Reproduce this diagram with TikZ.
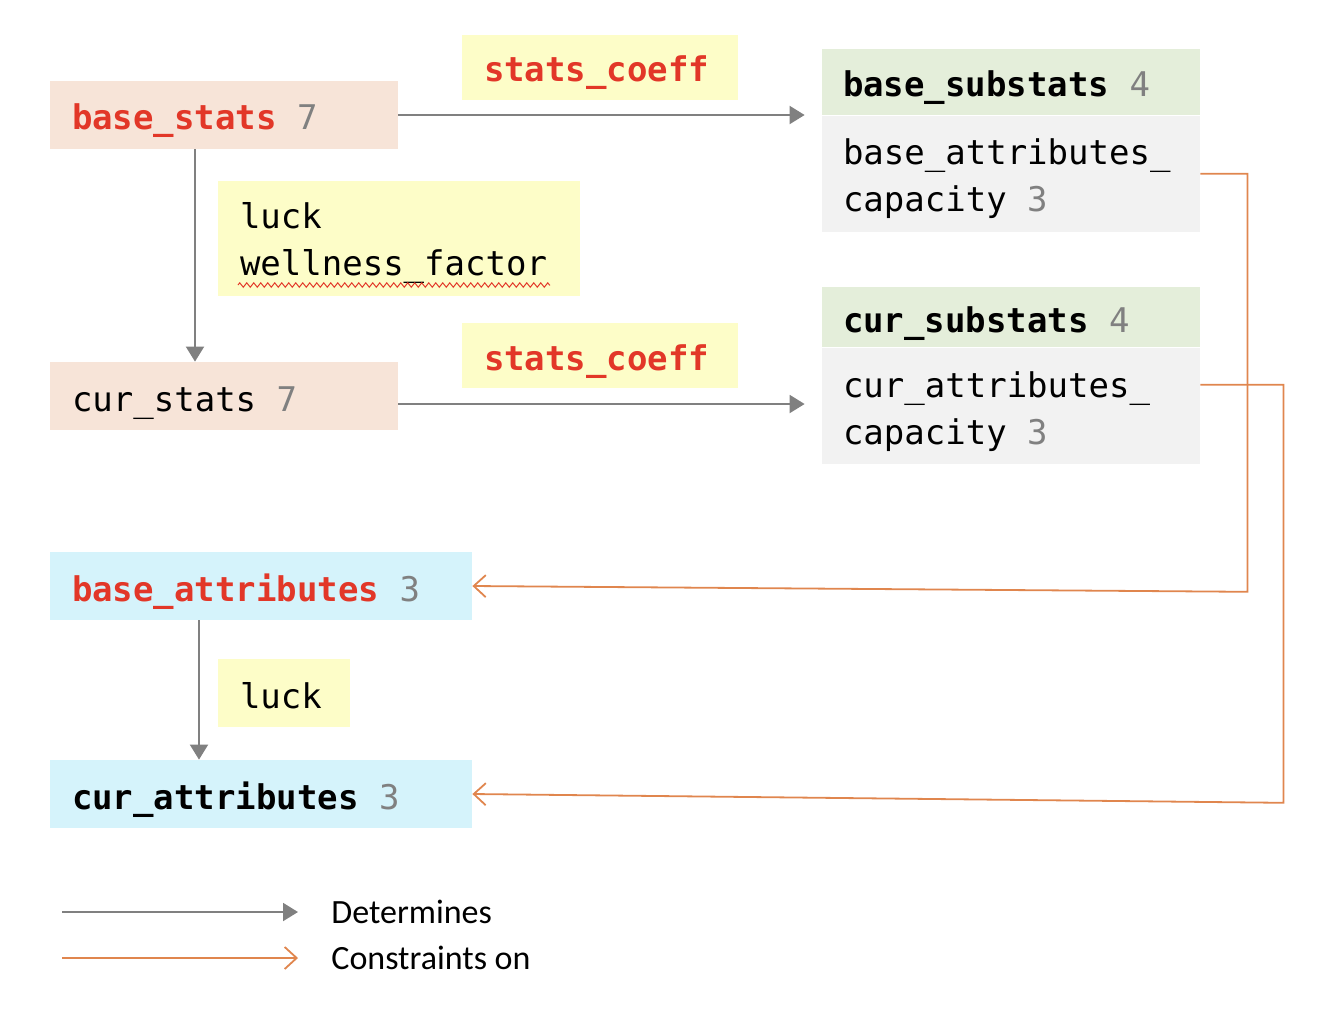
\documentclass[tikz,border=0pt]{standalone}
\usepackage{xcolor}
\usepackage{fontspec}
\setmainfont{Carlito}
\setmonofont{DejaVu Sans Mono}
\usepackage{tikz}
\usetikzlibrary{arrows.meta, positioning, calc, decorations.pathmorphing}
\definecolor{txtred}{RGB}{226,55,40}
\definecolor{numgray}{RGB}{128,128,128}
\definecolor{arrgray}{RGB}{128,128,128}
\definecolor{myorange}{RGB}{224,134,78}
\definecolor{hdrpeach}{RGB}{247,228,216}
\definecolor{hdrsky}{RGB}{213,243,251}
\definecolor{hdrnote}{RGB}{253,253,200}
\definecolor{hdrgreen}{RGB}{228,238,218}
\definecolor{hdrgray}{RGB}{242,242,242}
\newcommand{\boxfont}{\fontsize{17pt}{23.5pt}\selectfont\ttfamily}
\newcommand{\cnt}[1]{\hspace{0.602em}\textcolor{numgray}{#1}}
\newcommand{\hot}[1]{\textcolor{txtred}{\bfseries #1}}
\newcommand{\sstrut}{\rule[-4pt]{0pt}{23pt}}
\newcommand{\fstrut}{\rule{0pt}{18pt}}
\tikzset{
  statbox/.style={rectangle, fill=hdrpeach, inner xsep=11pt, inner ysep=0pt,
    minimum height=34pt, align=left, font=\boxfont},
  attrbox/.style={statbox, fill=hdrsky},
  subhead/.style={statbox, fill=hdrgreen, inner xsep=10.5pt, minimum height=33pt},
  subbody/.style={statbox, fill=hdrgray, inner xsep=10.5pt, minimum height=58pt},
  note/.style={rectangle, fill=hdrnote, inner xsep=11pt, inner ysep=0pt,
    align=left, font=\boxfont},
  legtext/.style={inner sep=0pt, font=\fontsize{17pt}{20pt}\selectfont},
  det/.style={-{Triangle[length=7.5pt, width=9pt]}, line width=1pt, color=arrgray},
  constr/.style={-{Straight Barb[length=6pt, width=11pt]}, line width=0.9pt, color=myorange},
  squig/.style={decorate, decoration={zigzag, segment length=3.5pt, amplitude=1.1pt},
    line width=0.5pt, color=txtred}
}
\begin{document}
\begin{tikzpicture}[x=0.5pt, y=-0.5pt]
  \useasboundingbox (0,0) rectangle (1332,1018);

  % Stats column
  \node[statbox, text width=152pt] (bstats) at (224,115) {\sstrut\hot{base\_stats}\cnt{7}};
  \node[statbox, text width=152pt] (cstats) at (224,396) {\sstrut cur\_stats\cnt{7}};

  % Attributes column
  \node[attrbox, text width=189pt] (batt) at (261,586) {\sstrut\hot{base\_attributes}\cnt{3}};
  \node[attrbox, text width=189pt] (catt) at (261,794) {\sstrut{\bfseries cur\_attributes}\cnt{3}};

  % Substats blocks
  \node[subhead, text width=168pt] (bsubh) at (1011,82) {\sstrut{\bfseries base\_substats}\cnt{4}};
  \node[subbody, text width=168pt, below=0pt of bsubh] (bsubb) {\fstrut base\_attributes\_\\capacity\cnt{3}};
  \node[subhead, text width=168pt, minimum height=30pt] (csubh) at (1011,317) {\rule[-5pt]{0pt}{25pt}{\bfseries cur\_substats}\cnt{4}};
  \node[subbody, text width=168pt, below=0pt of csubh] (csubb) {\rule{0pt}{18.5pt}cur\_attributes\_\\capacity\cnt{3}};

  % Notes on the arrows
  \node[note, text width=116pt, minimum height=32.5pt] (coefA) at (600,67) {\sstrut\hot{stats\_coeff}};
  \node[note, text width=116pt, minimum height=32.5pt] (coefB) at (600,355) {\sstrut\hot{stats\_coeff}};
  \node[note, text width=159pt, minimum height=57.5pt] (luckw) at (399,238)
    {\fontsize{17pt}{24.5pt}\selectfont\fstrut luck\\wellness\_factor};
  \node[note, text width=44pt, minimum height=34pt] (luckA) at (284,693) {\sstrut luck};
  \draw[squig] (238,285) -- (550,285);

  % Determines
  \draw[det, shorten >=8.5pt] (bstats.east) -- (bstats.east -| bsubb.west);
  \draw[det, shorten >=8.5pt] ([yshift=-4pt]cstats.east) -- ([yshift=-4pt]cstats.east -| csubb.west);
  \draw[det] ([xshift=-14.5pt]bstats.south) -- ([xshift=-14.5pt]cstats.north);
  \draw[det] ([xshift=-31pt]batt.south) -- ([xshift=-31pt]catt.north);

  % Constraints
  \draw[constr] (bsubb.east) -- ++(47,0) -- ++(0,418) -- (batt.east);
  \draw[constr] ([yshift=10.5pt]csubb.east) -- ++(83,0) -- ++(0,418) -- (catt.east);

  % Legend
  \coordinate (detL) at (62,912);
  \coordinate (detR) at (298,912);
  \coordinate (conL) at (62,958);
  \coordinate (conR) at (298,958);
  \draw[det] (detL) -- (detR);
  \draw[constr] (conL) -- (conR);
  \node[legtext, right=16.5pt of detR] (detT) {Determines};
  \node[legtext, right=16.5pt of conR] (conT) {Constraints on};
\end{tikzpicture}
\end{document}
